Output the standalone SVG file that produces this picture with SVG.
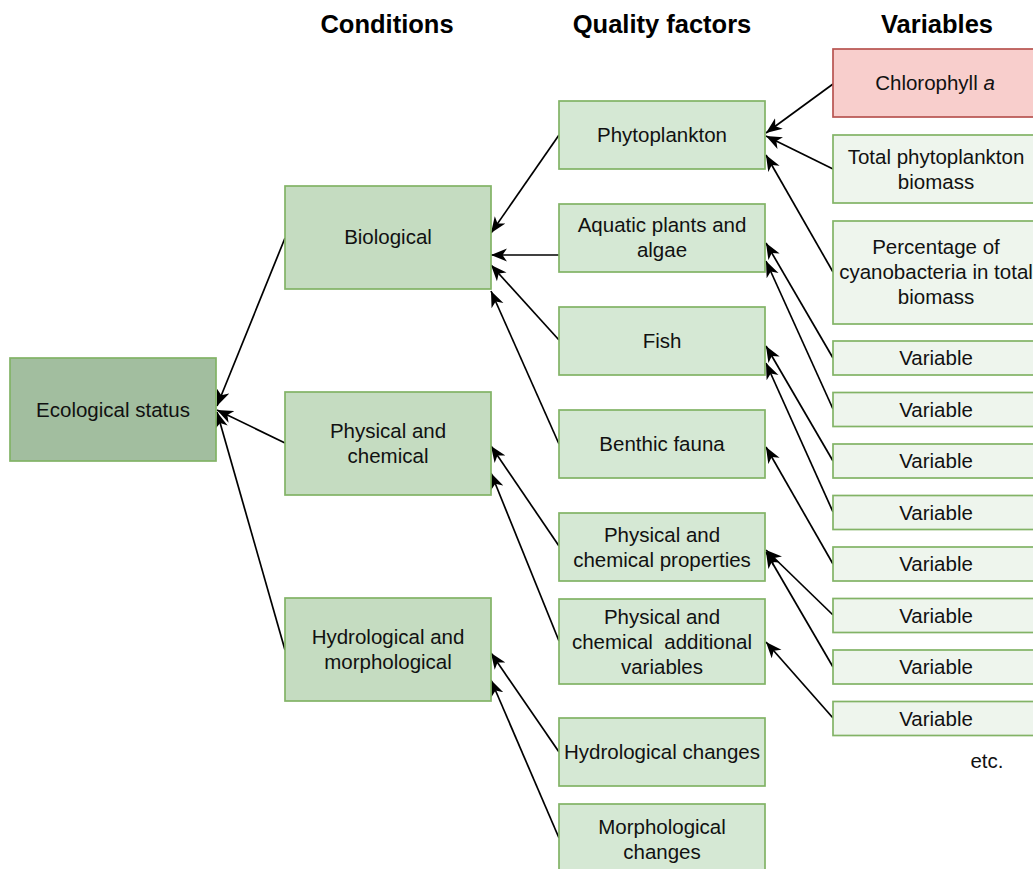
<svg xmlns="http://www.w3.org/2000/svg" width="1033" height="869" viewBox="0 0 1033 869">
  <style>
    .box { stroke: #82b366; stroke-width: 1.7; }
    .eco { fill: #a2be9f; }
    .cond { fill: #c5dcc1; }
    .qf { fill: #d5e8d4; }
    .var { fill: #eef5ed; }
    .red { fill: #f8cecc; stroke: #b85450; stroke-width: 1.7; }
    text { font-family: "Liberation Sans", Arial, sans-serif; font-size: 20.5px; fill: #111; text-anchor: middle; }
    .hdr { font-size: 25.5px; font-weight: bold; fill: #000; }
    .edge { fill: none; stroke: #000; stroke-width: 1.7; marker-end: url(#arrow); }
  </style>
  <defs>
    <marker id="arrow" markerUnits="userSpaceOnUse" markerWidth="18" markerHeight="14" refX="16" refY="7" orient="auto">
      <path d="M0,0.5 L16,7 L0,13.5 L4.5,7 z" fill="#000"/>
    </marker>
  </defs>
  <rect width="1033" height="869" fill="#fff"/>

  <!-- column headings -->
  <g id="headers">
    <text class="hdr" x="387" y="33">Conditions</text>
    <text class="hdr" x="662" y="33">Quality factors</text>
    <text class="hdr" x="937" y="33">Variables</text>
  </g>

  <!-- connectors -->
  <g id="connectors">
    <path class="edge" d="M285,238 L217,406"/>
    <path class="edge" d="M285,443 L217,410"/>
    <path class="edge" d="M285,650 L217,412"/>

    <path class="edge" d="M559,135 L491,233"/>
    <path class="edge" d="M559,255 L491,255"/>
    <path class="edge" d="M559,340 L491,265"/>
    <path class="edge" d="M559,444 L491,291"/>
    <path class="edge" d="M559,546 L491,446"/>
    <path class="edge" d="M559,641 L491,473"/>
    <path class="edge" d="M559,752 L491,653"/>
    <path class="edge" d="M559,838 L491,680"/>

    <path class="edge" d="M833,84 L766,133"/>
    <path class="edge" d="M833,169 L766,136"/>
    <path class="edge" d="M833,272 L766,155"/>
    <path class="edge" d="M833,358 L766,243"/>
    <path class="edge" d="M833,409 L766,261"/>
    <path class="edge" d="M833,461 L766,346"/>
    <path class="edge" d="M833,512 L766,363"/>
    <path class="edge" d="M833,564 L766,447"/>
    <path class="edge" d="M833,615 L766,550"/>
    <path class="edge" d="M833,667 L766,552"/>
    <path class="edge" d="M833,718 L766,642"/>
  </g>

  <!-- root -->
  <g id="ecological-status">
    <rect class="box eco" x="10" y="358" width="206" height="103"/>
    <text x="113" y="417">Ecological status</text>
  </g>

  <!-- conditions -->
  <g id="biological">
    <rect class="box cond" x="285" y="186" width="206" height="103"/>
    <text x="388" y="244">Biological</text>
  </g>
  <g id="physical-chemical">
    <rect class="box cond" x="285" y="392" width="206" height="103"/>
    <text x="388" y="438">Physical and</text>
    <text x="388" y="463">chemical</text>
  </g>
  <g id="hydro-morpho">
    <rect class="box cond" x="285" y="598" width="206" height="103"/>
    <text x="388" y="644">Hydrological and</text>
    <text x="388" y="669">morphological</text>
  </g>

  <!-- quality factors -->
  <g id="phytoplankton">
    <rect class="box qf" x="559" y="101" width="206" height="68"/>
    <text x="662" y="142">Phytoplankton</text>
  </g>
  <g id="aquatic-plants">
    <rect class="box qf" x="559" y="204" width="206" height="68"/>
    <text x="662" y="232">Aquatic plants and</text>
    <text x="662" y="257">algae</text>
  </g>
  <g id="fish">
    <rect class="box qf" x="559" y="307" width="206" height="68"/>
    <text x="662" y="348">Fish</text>
  </g>
  <g id="benthic-fauna">
    <rect class="box qf" x="559" y="410" width="206" height="68"/>
    <text x="662" y="451">Benthic fauna</text>
  </g>
  <g id="pc-properties">
    <rect class="box qf" x="559" y="513" width="206" height="68"/>
    <text x="662" y="542">Physical and</text>
    <text x="662" y="567">chemical properties</text>
  </g>
  <g id="pc-additional">
    <rect class="box qf" x="559" y="599" width="206" height="85"/>
    <text x="662" y="624">Physical and</text>
    <text x="662" y="649" xml:space="preserve">chemical  additional</text>
    <text x="662" y="674">variables</text>
  </g>
  <g id="hydrological-changes">
    <rect class="box qf" x="559" y="718" width="206" height="68"/>
    <text x="662" y="759">Hydrological changes</text>
  </g>
  <g id="morphological-changes">
    <rect class="box qf" x="559" y="804" width="206" height="68"/>
    <text x="662" y="834">Morphological</text>
    <text x="662" y="859">changes</text>
  </g>

  <!-- variables -->
  <g id="chlorophyll-a">
    <rect class="red" x="833" y="49" width="206" height="68"/>
    <text x="935" y="90">Chlorophyll <tspan font-style="italic">a</tspan></text>
  </g>
  <g id="total-biomass">
    <rect class="box var" x="833" y="135" width="206" height="68"/>
    <text x="936" y="164">Total phytoplankton</text>
    <text x="936" y="189">biomass</text>
  </g>
  <g id="cyanobacteria">
    <rect class="box var" x="833" y="221" width="206" height="103"/>
    <text x="936" y="254">Percentage of</text>
    <text x="936" y="279">cyanobacteria in total</text>
    <text x="936" y="304">biomass</text>
  </g>
  <g id="variable-1"><rect class="box var" x="833" y="341" width="206" height="34"/><text x="936" y="365">Variable</text></g>
  <g id="variable-2"><rect class="box var" x="833" y="392.5" width="206" height="34"/><text x="936" y="416.5">Variable</text></g>
  <g id="variable-3"><rect class="box var" x="833" y="444" width="206" height="34"/><text x="936" y="468">Variable</text></g>
  <g id="variable-4"><rect class="box var" x="833" y="495.5" width="206" height="34"/><text x="936" y="519.5">Variable</text></g>
  <g id="variable-5"><rect class="box var" x="833" y="547" width="206" height="34"/><text x="936" y="571">Variable</text></g>
  <g id="variable-6"><rect class="box var" x="833" y="598.5" width="206" height="34"/><text x="936" y="622.5">Variable</text></g>
  <g id="variable-7"><rect class="box var" x="833" y="650" width="206" height="34"/><text x="936" y="674">Variable</text></g>
  <g id="variable-8"><rect class="box var" x="833" y="701.5" width="206" height="34"/><text x="936" y="725.5">Variable</text></g>

  <g id="etc">
    <text x="987" y="768">etc.</text>
  </g>
</svg>
